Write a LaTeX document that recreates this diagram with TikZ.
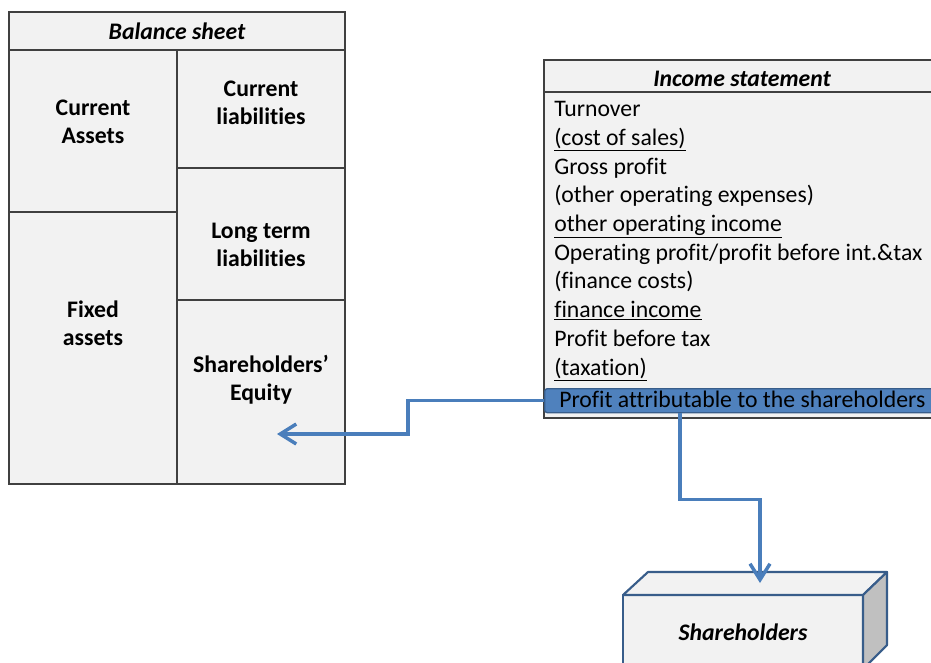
\documentclass[tikz,border=0pt]{standalone}
\usepackage{fontspec}
\setmainfont{Carlito}[Ligatures={NoCommon}]
\usetikzlibrary{arrows.meta,positioning}
\definecolor{sheetfill}{HTML}{F2F2F2}
\definecolor{sheetline}{HTML}{404040}
\definecolor{flowblue}{HTML}{4A7EBB}
\definecolor{boxblue}{HTML}{4F81BD}
\definecolor{edgeblue}{HTML}{385D8A}
\definecolor{sidegray}{HTML}{C0C0C0}

\tikzset{
    cell/.style={draw=sheetline, fill=sheetfill, line width=1.4pt},
    cube/.style={draw=edgeblue, fill=sheetfill, line width=1.6pt, line join=round},
    hilite/.style={draw=edgeblue, fill=boxblue, line width=1pt, rounded corners=2pt, inner sep=0pt},
    heading/.style={font=\fontsize{17.8}{21}\selectfont\bfseries\itshape},
    entry/.style={font=\fontsize{17.8}{21}\selectfont\bfseries, align=center, inner sep=0pt},
    line item/.style={font=\fontsize{17.8}{21}\selectfont, anchor=base west, inner sep=0pt},
    flow/.style={draw=flowblue, line width=2.6pt, -{Straight Barb[length=12pt,width=15pt]}},
}

\begin{document}
\begin{tikzpicture}[x=0.75pt, y=-0.75pt]
    \useasboundingbox (0,0) rectangle (931,663);

    \draw[cell] (9,12)    rectangle (345,50);
    \draw[cell] (9,50)    rectangle (177,212);
    \draw[cell] (9,212)   rectangle (177,484);
    \draw[cell] (177,50)  rectangle (345,168);
    \draw[cell] (177,168) rectangle (345,300);
    \draw[cell] (177,300) rectangle (345,484);

    \node[heading] (bs)  at (177,31)    {Balance sheet};
    \node[entry]   (ca)  at (93,121.5)  {Current\\Assets};
    \node[entry]   (cl)  at (261,103)   {Current\\liabilities};
    \node[entry]   (ltl) at (261,245)   {Long term\\liabilities};
    \node[entry]   (fa)  at (93,323.5)  {Fixed\\assets};
    \node[entry]   (se)  at (261,379.5) {Shareholders’\\Equity};
    \coordinate    (eq)  at (277,434);

    \draw[cell] (544,60) rectangle (940,92);
    \draw[cell] (544,92) rectangle (940,418);
    \node[heading] (is) at (742,79) {Income statement};

    \foreach \txt [count=\i from 0] in {Turnover, \underline{(cost of sales)}, Gross profit,
        (other operating expenses), \underline{other operating income},
        Operating profit/profit before int.\&tax, (finance costs),
        \underline{finance income}, Profit before tax, \underline{(taxation)}} {
        \node[line item] (item\i) at (554,116.7+28.7*\i) {\txt};
    }

    \node[hilite, anchor=north west, minimum width=293pt, minimum height=18pt] (hl) at (544,388) {};
    \node[line item] (profit) at (559,407) {Profit attributable to the shareholders};

    \draw[cube] (623,595) rectangle (863,690);
    \draw[cube] (623,595) -- (648,572) -- (887,572) -- (863,595) -- cycle;
    \draw[cube, fill=sidegray] (863,595) -- (887,572) -- (887,645) -- (863,669) -- cycle;
    \node[heading] (sh) at (743,632) {Shareholders};
    \coordinate (shtop) at (760,583);

    \draw[flow] (hl.west) -- ++(-136,0) |- (eq);
    \draw[flow] (hl.south west) ++(136,0) -- ++(0,86) -| (shtop);
\end{tikzpicture}
\end{document}
